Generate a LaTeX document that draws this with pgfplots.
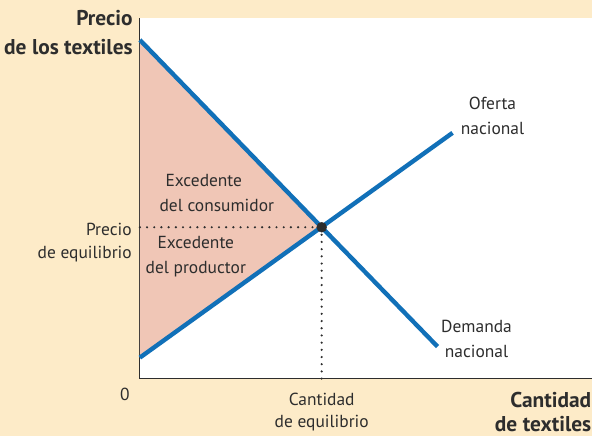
\documentclass[border=0pt]{standalone}
\usepackage{fontspec}
\setmainfont{PT Sans}
\usepackage{pgfplots}
\pgfplotsset{compat=1.18}
\definecolor{bgcream}{RGB}{253,235,200}
\definecolor{surplus}{RGB}{240,198,182}
\definecolor{lineblue}{RGB}{17,112,184}
\definecolor{txt}{RGB}{45,45,45}

\tikzset{
  lbl/.style={text=txt, font=\fontsize{17.5}{20}\selectfont, inner sep=0pt},
  ttl/.style={text=txt, font=\bfseries\fontsize{21.5}{22}\selectfont, inner sep=0pt},
}

\begin{document}
\begin{tikzpicture}[x=1bp,y=1bp]
% cream page background
\fill[bgcream] (0,0) rectangle (593,436);
\begin{axis}[
    at={(140bp,57bp)}, anchor=south west,
    scale only axis, width=453bp, height=361bp,
    xmin=0, xmax=453, ymin=0, ymax=361,
    axis lines*=left, axis line style={txt, line width=1.2pt, -},
    axis background/.style={fill=white},
    xtick=\empty, ytick=\empty,
    clip=false,
]
% consumer + producer surplus triangle
\addplot[fill=surplus, draw=none] coordinates {(0,339) (182,151.5) (0,21)} -- cycle;
% dotted guides
\addplot[txt, line width=2.4pt, line cap=round, dash pattern=on 0pt off 7.2bp] coordinates {(0,151.5) (182,151.5)};
\addplot[txt, line width=2.4pt, line cap=round, dash pattern=on 0pt off 7.2bp] coordinates {(182,0) (182,151.5)};
% demand and supply
\addplot[lineblue, line width=4.4pt] coordinates {(0,339) (298,32)};
\addplot[lineblue, line width=4.4pt] coordinates {(0,21) (313,246)};
% equilibrium point
\addplot[only marks, mark=*, mark size=5pt, txt] coordinates {(182,151.5)};

% axis titles
\node[ttl, anchor=east] at (axis cs:-7,361) {Precio};
\node[ttl, anchor=east] at (axis cs:-7,332) {de los textiles};
\node[ttl, anchor=east] at (axis cs:452,-21) {Cantidad};
\node[ttl, anchor=east] at (axis cs:452,-45) {de textiles};
% tick-like labels
\node[lbl, anchor=east] at (axis cs:-8,149) {Precio};
\node[lbl, anchor=east] at (axis cs:-8,125) {de equilibrio};
\node[lbl] at (axis cs:-15,-16) {0};
\node[lbl] at (axis cs:182,-21) {Cantidad};
\node[lbl] at (axis cs:182,-45) {de equilibrio};
% surplus labels
\node[lbl] at (axis cs:64,198) {Excedente};
\node[lbl] at (axis cs:77,173) {del consumidor};
\node[lbl] at (axis cs:56,136) {Excedente};
\node[lbl] at (axis cs:56,110) {del productor};
% curve labels
\node[lbl] at (axis cs:353,275) {Oferta};
\node[lbl] at (axis cs:353,250) {nacional};
\node[lbl] at (axis cs:337,52) {Demanda};
\node[lbl] at (axis cs:337,27) {nacional};
\end{axis}
\end{tikzpicture}
\end{document}
